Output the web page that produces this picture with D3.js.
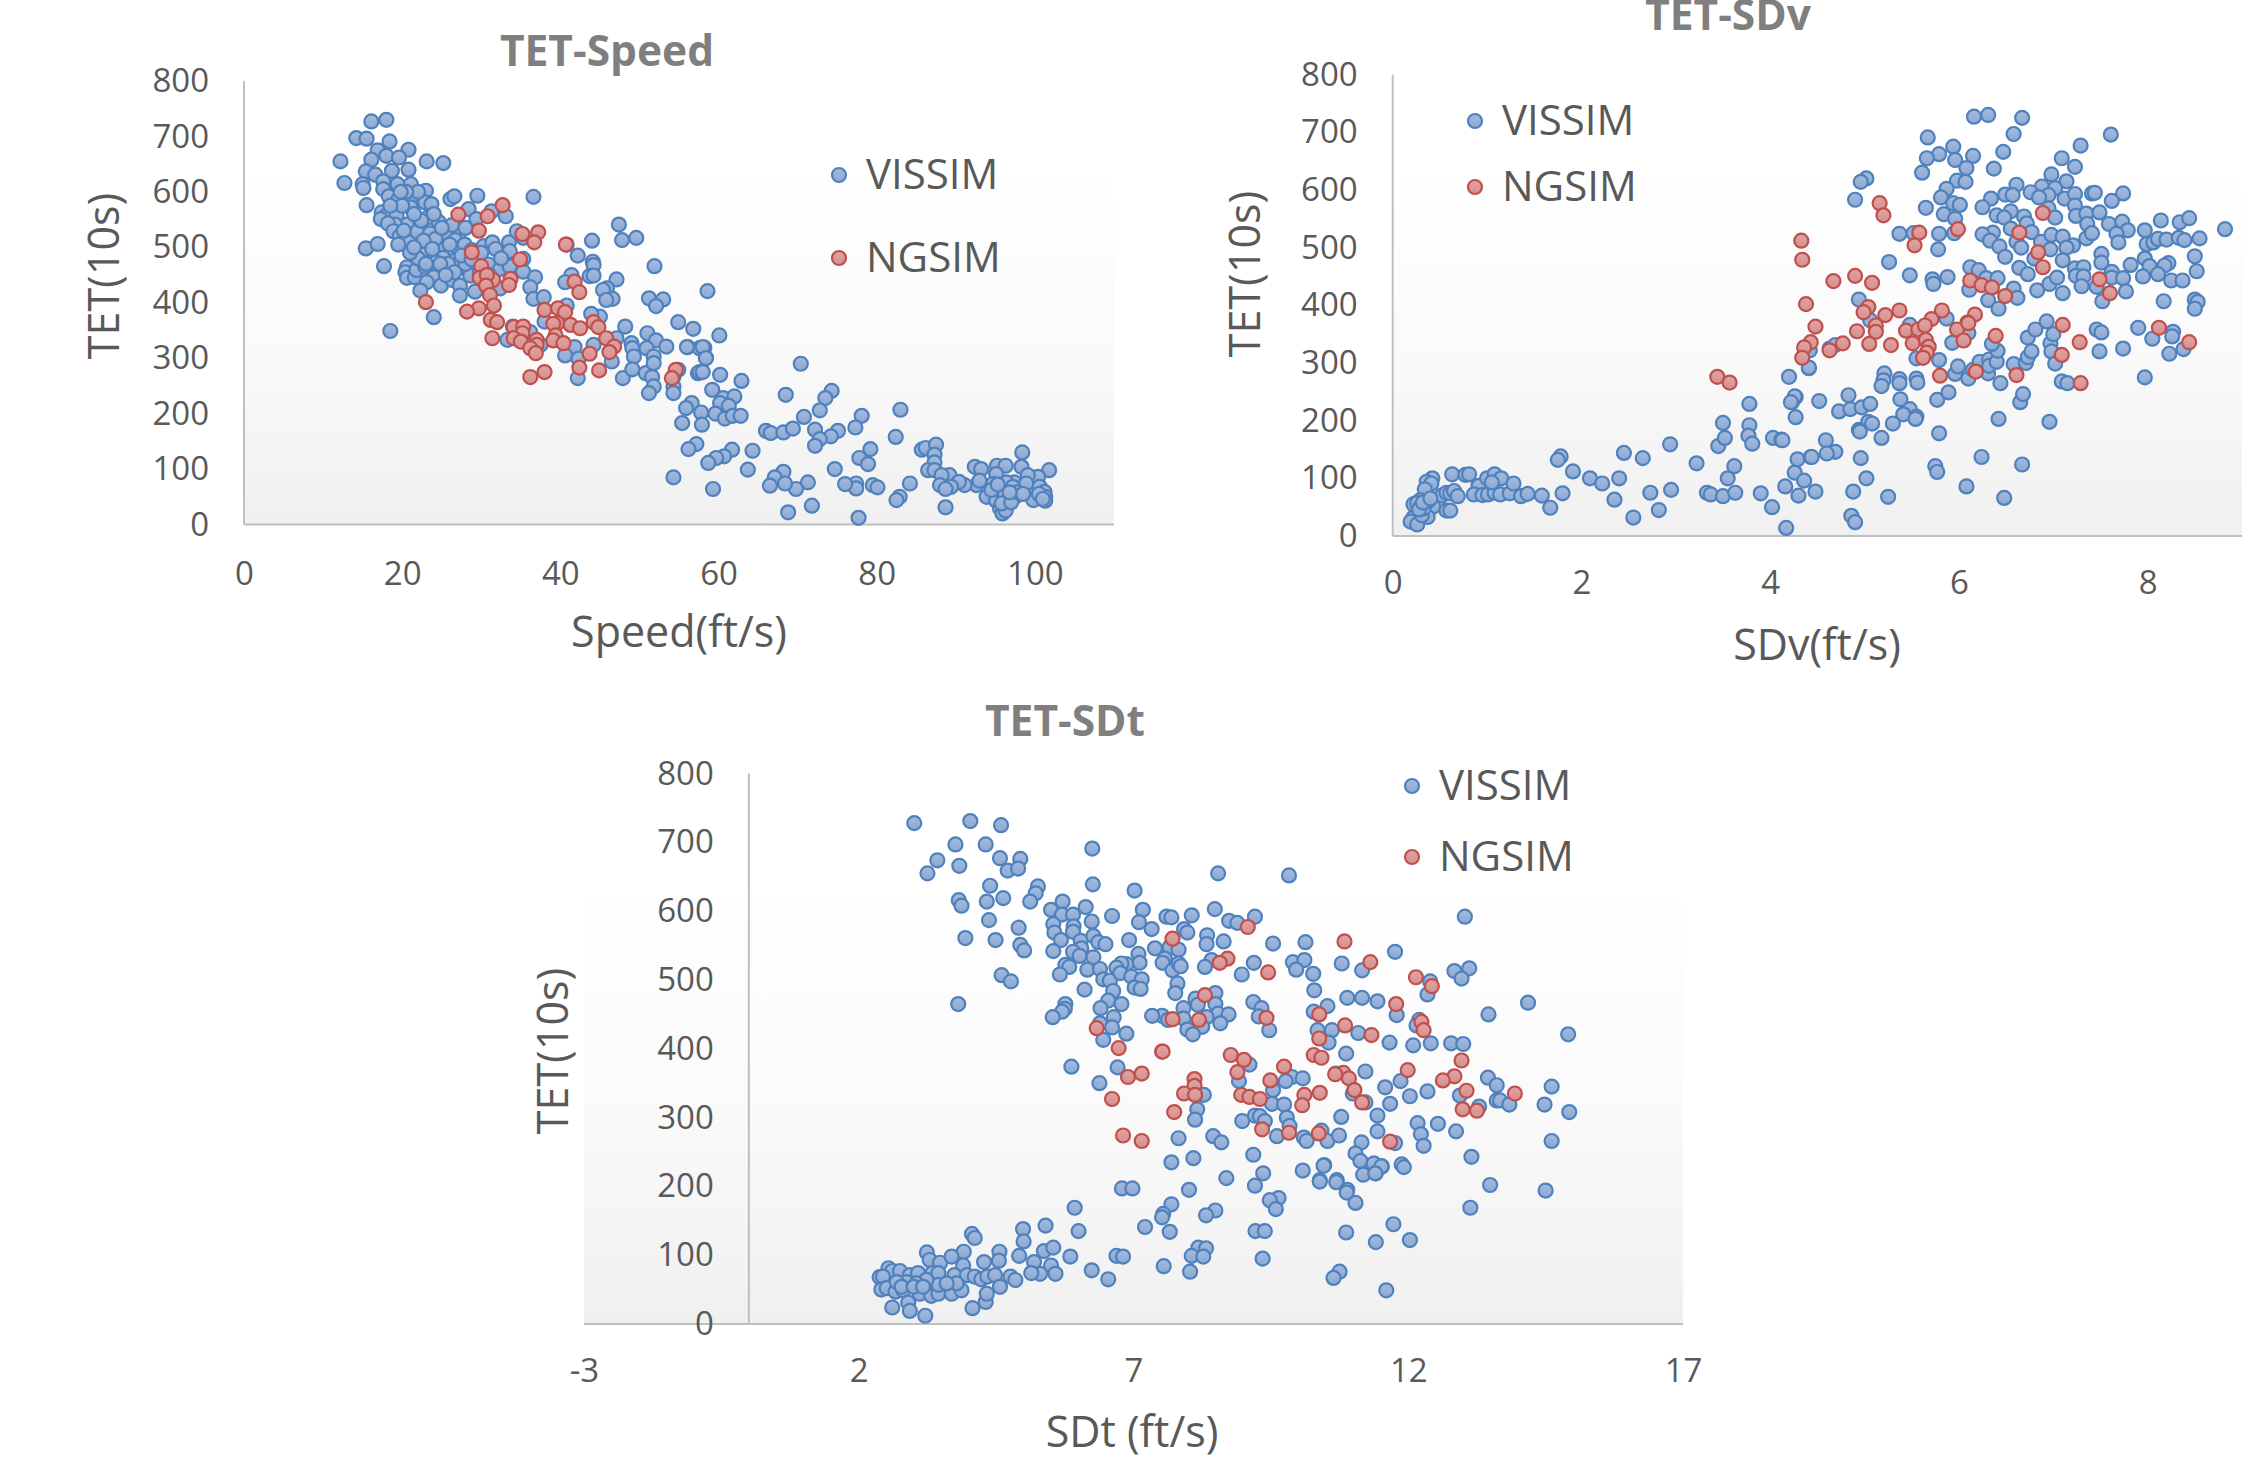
<!DOCTYPE html>
<html lang="en">

<head>
  <title>TET scatter plots</title>
  <meta charset="UTF-8">

  <script src="https://d3js.org/d3.v7.min.js"></script>

  <style>
    body {
      margin: 0;
      background-color: white;
      font-family: "Open Sans", sans-serif;
    }

    .tick text {
      font-family: "Open Sans", sans-serif;
      font-size: 33px;
      fill: #595959;
    }

    .chartTitle {
      font-size: 42.5px;
      font-weight: bold;
      fill: #7f7f7f;
      text-anchor: middle;
    }

    .axisLabel {
      font-size: 43px;
      fill: #595959;
      text-anchor: middle;
    }

    .legendLabel {
      font-size: 42px;
      fill: #595959;
    }
  </style>
</head>

<body>
  <svg id="plot" width="2260" height="1459"></svg>

  <script>
    const speedVissim = [[16.1,727],[18,730],[14.2,697],[15.5,696],[18.4,691],[16.9,675],[20.8,676],[23.1,655],[25.2,652],[12.2,655],[16.1,658],[18,665],[19.6,662],[15.4,637],[16.6,631],[18.7,638],[20.8,640],[12.7,616],[15,614],[15.1,607],[17.6,619],[19.4,614],[21.1,614],[17.6,605],[23,602],[18.3,592],[19.5,586],[21.2,592],[22.9,581],[23.7,578],[15.5,576],[21.1,572],[19.4,568],[17.4,563],[18,557],[17.3,551],[19.3,556],[23.3,554],[26.1,587],[26.6,592],[29.5,593],[28.4,569],[31.3,565],[33.1,556],[29.4,551],[36.6,591],[24.6,546],[20.6,541],[22.3,535],[19.1,541],[18.2,543],[18.9,529],[19.7,520],[20.9,509],[25,524],[27.1,520],[25.6,524],[23,505],[24.4,506],[26.3,540],[28,535],[25.2,502],[26.7,513],[15.4,498],[16.9,506],[30.3,502],[31.4,509],[31.8,497],[33.5,509],[33.6,493],[34.5,529],[35.3,517],[22.9,488],[24,483],[25.2,481],[26.9,479],[27.1,498],[24.3,473],[17.7,466],[20.6,464],[20.4,455],[20.6,445],[21.6,446],[21.8,459],[22.9,465],[24,446],[23.1,437],[22.3,422],[24.9,431],[26.3,441],[27.3,431],[27.3,413],[28.4,459],[28.6,449],[29.2,420],[30.9,469],[32.4,461],[33.6,465],[35.3,456],[35.3,479],[36.8,446],[36.2,428],[36.6,407],[37.9,410],[32.4,426],[24,374],[18.5,349],[41.4,450],[40.6,437],[42.2,485],[40.8,505],[44,512],[47.4,541],[47.8,513],[49.6,517],[44.1,474],[44.2,468],[43.7,448],[44.2,449],[47.1,442],[45.9,426],[45.4,423],[46.6,407],[45.8,405],[51.9,466],[51.2,408],[53,406],[52.1,394],[40.8,395],[38,366],[48.2,357],[54.9,365],[56.8,353],[34,357],[45,375],[43.9,380],[33.3,333],[36.2,347],[37.5,324],[41.8,320],[44.2,324],[40.6,305],[42.3,299],[47.1,336],[46.5,294],[42.2,264],[47.9,264],[49,327],[49.1,318],[49.3,303],[49.1,280],[51,345],[52.1,332],[50.9,318],[51.8,303],[53.4,321],[50.8,273],[51.8,291],[51.6,266],[51.8,249],[51.2,237],[54.3,249],[54.3,237],[54.3,267],[56.1,320],[57.6,318],[57.4,273],[54.9,279],[58.6,421],[60.1,341],[58.2,319],[58.4,301],[54.3,85],[56,320],[58,320],[58.4,300],[70.4,290],[57.6,275],[58,275],[60.2,270],[62.9,259],[59.2,243],[68.5,234],[74.3,241],[73.5,228],[60.6,228],[62,231],[60.2,219],[61.3,214],[56.6,219],[55.9,210],[57.8,202],[72.8,206],[59.6,200],[78.1,196],[70.8,194],[60.8,191],[61.8,196],[62.8,196],[55.4,183],[57.9,180],[77.3,175],[83,207],[66,169],[66.6,165],[68.2,166],[69.4,173],[72.2,171],[75.1,169],[74.2,159],[72.8,154],[72.2,142],[82.4,158],[57.2,145],[56.2,136],[61.7,135],[60.7,123],[59.7,120],[58.7,111],[64.3,133],[63.7,99],[79.2,136],[77.8,120],[78.9,109],[74.7,100],[85.7,135],[86.2,138],[87.5,144],[87.3,126],[87.3,112],[86.5,98],[87.3,98],[92.4,104],[93.2,100],[89.2,89],[88.2,89],[98.4,130],[95.2,106],[96.3,106],[98.3,104],[95.1,91],[101.8,98],[100.4,86],[99.1,89],[97.4,76],[96.4,76],[94.7,73],[92.6,71],[91.1,71],[90.4,77],[93,79],[88.6,67],[88,71],[89.4,68],[88.7,64],[84.2,74],[79.5,71],[80.1,67],[77.4,74],[77.4,65],[76,73],[71.3,76],[69.8,64],[68.2,95],[67.1,85],[68.4,74],[66.5,70],[59.3,64],[82.9,50],[82.5,44],[88.7,31],[71.8,34],[68.8,22],[77.7,12],[93.9,50],[95.1,43],[95.6,29],[95.9,20],[96.6,44],[97.5,50],[98.1,62],[99.3,62],[99.8,44],[100.6,68],[101.2,59],[101.3,50],[101.3,43],[97.2,68],[95.5,62],[96.2,53],[98.9,74],[94.5,62],[21.9,528],[23.5,525],[24.2,515],[22.7,512],[23.8,497],[26,505],[27.9,505],[28.8,495],[22,480],[23,470],[25.8,470],[26.6,455],[28,470],[29.5,478],[21,490],[21.5,500],[19.5,505],[20.2,530],[22.4,548],[24,560],[25,535],[21.5,560],[20,575],[22,600],[20.5,600],[18.5,575],[19.8,600],[24.8,470],[25.5,450],[27.5,485],[28.8,478],[30,490],[32.5,480],[31,450],[29.8,455],[96,35],[96.3,25],[95.8,38],[97,40],[97.8,58],[98.5,55],[100.5,55],[101,46],[96.8,58],[95.3,72]];

    const speedNgsim = [[27.1,559],[30.8,556],[32.7,576],[29.7,530],[35.2,524],[37.2,527],[36.7,509],[40.7,505],[28.8,491],[34.9,478],[30,466],[29.8,445],[31.5,441],[30.7,450],[33.7,443],[33.5,432],[30.6,431],[31.1,414],[23,401],[41.8,438],[42.4,419],[31.6,395],[29.7,390],[28.2,384],[38,387],[39.7,390],[40.6,383],[31.2,369],[32,365],[39.6,363],[39.1,362],[41.3,360],[42.5,354],[44.2,365],[44.8,356],[34.1,356],[35.3,357],[35.2,345],[34.1,336],[35,330],[37,333],[37,324],[36.2,318],[36.9,309],[31.4,336],[39.4,341],[39.1,332],[40.4,327],[45.8,336],[46.8,321],[46.2,311],[43.7,308],[42.4,283],[44.9,278],[38,275],[36.2,266],[54.6,279],[54.1,264]];

    const sdvVissim = [[0.42,100],[0.36,94],[0.41,91],[0.34,81],[0.24,56],[0.29,62],[0.34,54],[0.43,51],[0.22,32],[0.19,25],[0.26,20],[0.37,33],[0.31,36],[0.57,44],[0.61,44],[0.52,70],[0.57,75],[0.61,74],[0.65,78],[0.69,69],[0.63,107],[0.77,106],[0.81,107],[0.91,87],[0.86,72],[0.95,71],[1.01,72],[1.08,75],[1.14,72],[1.24,74],[1.36,69],[1.43,73],[1.58,70],[1.67,49],[1,100],[1.08,107],[1.15,100],[1.05,93],[1.28,91],[1.78,138],[1.75,132],[1.91,112],[1.8,74],[2.09,100],[2.22,91],[2.45,144],[2.65,135],[2.4,100],[2.94,159],[2.35,63],[2.73,75],[2.95,80],[2.82,45],[2.55,32],[3.22,126],[3.33,75],[3.37,72],[3.5,69],[3.63,75],[3.55,100],[3.62,121],[3.45,156],[3.52,170],[3.5,196],[3.78,229],[3.78,192],[3.77,174],[3.81,160],[4.03,170],[4.12,167],[3.9,74],[4.02,50],[4.17,14],[4.16,86],[4.26,110],[4.29,133],[4.43,137],[4.36,96],[4.3,70],[4.27,206],[4.23,232],[4.27,241],[4.2,276],[4.41,291],[4.48,77],[0.22,55],[0.26,57],[0.3,52],[0.33,48],[0.37,60],[0.28,46],[0.32,58],[0.4,65],[6.16,727],[6.31,730],[6.67,725],[6.58,697],[7.61,696],[7.29,677],[5.67,691],[5.94,675],[5.79,662],[5.66,655],[5.96,652],[6.15,659],[6.47,666],[6.08,638],[6.37,637],[7.09,655],[7.23,640],[5.61,630],[5.02,620],[4.96,614],[6.98,627],[7.14,615],[5.98,616],[6.07,614],[5.87,602],[6.61,609],[6.88,606],[7.02,603],[6.76,596],[6.49,592],[6.57,591],[6.95,591],[6.85,587],[4.9,583],[5.81,587],[6.34,585],[7.12,585],[7.23,593],[7.23,573],[7.41,594],[7.44,595],[7.74,594],[7.62,581],[5.65,569],[5.94,577],[6.01,574],[6.25,570],[6.55,563],[5.84,558],[6.4,556],[6.48,552],[6.69,554],[6.95,568],[7.02,552],[7.24,555],[7.35,559],[7.49,561],[7.36,541],[7.59,541],[7.73,545],[8.14,547],[8.34,544],[8.44,551],[8.82,532],[7.97,530],[7.79,530],[7.67,524],[7.69,509],[7.99,506],[8.06,509],[8.11,515],[8.2,514],[8.33,517],[8.39,513],[8.55,516],[5.96,550],[5.95,525],[5.79,524],[5.52,525],[5.37,524],[5.78,497],[6.55,533],[6.72,542],[6.77,527],[6.36,526],[6.25,523],[6.33,512],[6.61,510],[6.43,502],[6.66,500],[6.87,510],[6.98,522],[7.1,519],[7.35,516],[7.41,525],[7.21,504],[7.14,500],[6.97,497],[6.49,484],[6.8,481],[7.1,478],[7.51,489],[7.51,474],[7.97,481],[8.02,468],[8.22,473],[8.18,469],[8.5,485],[8.52,459],[5.26,475],[5.48,452],[6.12,466],[6.21,461],[6.64,465],[6.73,454],[7.23,464],[7.32,466],[7.24,451],[7.32,450],[7.62,458],[7.62,448],[7.74,447],[7.82,470],[7.95,450],[8.11,454],[8.25,443],[8.37,443],[5.72,445],[5.73,437],[5.88,449],[6.29,447],[6.41,447],[6.11,427],[6.31,409],[6.42,394],[6.58,429],[6.62,413],[6.83,426],[6.96,437],[7.04,448],[7.1,421],[7.3,433],[7.46,432],[7.52,407],[7.77,424],[8.17,407],[8.5,410],[8.53,406],[8.5,394],[4.94,410],[5.06,374],[5.87,377],[5.48,366],[4.42,322],[4.63,325],[4.69,331],[4.41,292],[4.26,242],[4.22,232],[4.52,234],[4.83,244],[4.73,216],[4.85,220],[4.97,223],[5.06,229],[5.21,282],[5.2,270],[5.18,260],[5.37,272],[5.37,265],[5.55,273],[5.56,266],[5.38,237],[5.48,220],[5.55,207],[5.41,211],[5.54,203],[5.3,195],[5.04,198],[5.08,195],[4.94,184],[4.95,181],[5.18,170],[4.13,166],[4.59,166],[4.69,146],[4.6,143],[4.44,137],[4.96,135],[5.02,100],[4.88,77],[5.25,68],[4.86,35],[4.9,24],[5.79,178],[5.75,121],[5.77,111],[6.24,137],[6.08,86],[6.67,124],[6.48,66],[6.42,203],[6.96,198],[6.65,232],[6.68,246],[5.77,236],[5.89,249],[5.55,308],[5.79,305],[5.96,281],[5.99,294],[6.1,273],[6.15,288],[6.22,302],[6.32,306],[6.31,282],[6.32,295],[6.4,302],[6.44,265],[6.58,298],[6.71,300],[6.73,310],[6.77,320],[6.73,344],[6.81,358],[6.93,372],[6.97,334],[7,350],[6.98,320],[7.02,299],[7.09,268],[7.15,265],[6.41,321],[6.35,333],[5.93,335],[6.1,352],[7.46,358],[7.51,353],[7.49,320],[7.74,325],[7.9,361],[8.05,342],[8.27,354],[8.26,346],[8.38,324],[8.23,316],[7.97,275]];

    const sdvNgsim = [[3.44,276],[3.57,266],[5.16,577],[5.2,556],[6.89,560],[5.99,532],[5.58,526],[5.53,504],[6.64,526],[6.84,492],[6.89,466],[4.33,512],[4.34,479],[4.67,442],[4.9,451],[5.08,439],[6.12,443],[6.24,435],[6.35,431],[6.49,416],[7.49,445],[7.6,421],[4.38,402],[5.04,397],[4.99,388],[5.22,383],[5.37,391],[5.82,391],[6.17,384],[6.09,370],[5.71,376],[4.48,363],[4.92,355],[5.12,365],[5.12,354],[5.44,356],[5.05,333],[5.28,331],[4.77,334],[4.63,322],[4.43,336],[4.36,327],[4.34,309],[5.51,334],[5.57,358],[5.64,365],[5.65,340],[5.68,328],[5.66,318],[5.62,309],[5.98,358],[6.1,369],[6.05,339],[5.8,278],[6.18,285],[6.61,279],[6.39,347],[7.1,366],[7.28,336],[7.09,314],[7.29,265],[8.12,361],[8.44,336]];

    const sdtVissim = [[3.01,728],[4.03,731],[4.59,725],[3.76,697],[4.31,697],[3.43,674],[3.83,666],[3.25,655],[4.57,677],[4.94,676],[4.71,659],[4.9,662],[6.25,691],[8.54,655],[9.83,652],[6.26,639],[7.02,630],[5.26,636],[5.22,626],[4.39,637],[3.82,616],[3.87,608],[4.33,614],[4.63,619],[5.12,614],[5.71,614],[5.5,602],[5.7,595],[5.9,595],[6.13,606],[7.17,602],[6.24,585],[6.61,593],[7.1,584],[4.37,587],[4.91,576],[5.54,581],[5.56,569],[5.91,578],[5.9,570],[5.68,558],[3.94,561],[4.49,558],[4.94,551],[5.01,543],[5.54,542],[6.04,557],[6.27,564],[6.36,555],[6.49,552],[6.92,558],[6.05,546],[5.9,541],[6.02,535],[6.27,533],[7.09,538],[7.11,525],[6.87,523],[6.78,524],[6.69,518],[5.76,522],[5.83,519],[5.66,508],[6.16,515],[6.39,516],[6.45,501],[6.57,499],[6.76,510],[6.96,505],[7.15,501],[7.02,489],[7.13,487],[6.63,484],[6.11,486],[4.6,507],[4.77,498],[6.54,470],[6.78,465],[6.4,459],[6.64,446],[3.81,465],[5.76,465],[5.75,458],[5.7,454],[5.53,446],[6.39,437],[6.61,431],[6.87,422],[6.45,413],[5.87,374],[6.71,373],[6.38,350],[8.48,603],[8.06,594],[7.6,592],[7.69,591],[8.74,586],[8.89,583],[9.21,592],[13.03,592],[7.33,574],[7.92,574],[7.98,569],[8.34,565],[8.33,552],[8.64,556],[9.54,553],[10.13,555],[11.76,541],[7.39,546],[7.66,548],[7.82,544],[7.57,531],[7.53,525],[7.71,514],[7.82,524],[7.86,520],[8.42,529],[8.3,519],[9.19,525],[8.97,508],[9.9,526],[10.11,529],[9.96,515],[10.27,509],[10.29,485],[10.79,524],[11.16,514],[12.84,513],[13.11,517],[12.97,502],[12.4,498],[12.35,479],[7.8,495],[7.76,481],[8.49,481],[8.49,465],[8.54,451],[8.73,450],[8.58,437],[8.13,473],[8.17,464],[7.91,459],[7.91,444],[8.33,446],[8.25,432],[7.98,428],[8.08,421],[7.52,448],[7.34,448],[7.63,442],[9.18,468],[9.33,459],[9.28,447],[9.47,427],[10.53,462],[10.28,454],[10.89,474],[11.16,474],[11.44,469],[11.79,449],[12.2,442],[12.15,434],[13.46,450],[14.18,467],[10.35,427],[10.61,427],[11.09,423],[10.55,409],[10.87,393],[11.66,409],[12.09,405],[12.41,408],[12.78,408],[13,407],[9.11,377],[8.92,353],[11.22,367],[10.68,364],[9.88,359],[10.08,357],[9.77,353],[9.54,340],[11.86,353],[11.58,344],[10.99,335],[11.22,322],[11.67,320],[12.03,331],[12.35,338],[12.94,332],[13.29,316],[13.45,358],[13.61,347],[13.61,325],[13.67,325],[13.84,319],[14.48,319],[14.61,345],[8.28,333],[8.12,333],[8.16,312],[8.12,297],[9.52,320],[9.74,319],[8.98,295],[9.21,303],[9.3,302],[9.39,295],[9.79,300],[9.84,288],[10.78,301],[11.44,303],[11.44,280],[12.17,292],[12.23,276],[12.28,259],[12.54,291],[12.87,280],[13.15,243],[14.61,266],[9.61,273],[10.1,271],[10.15,266],[10.42,281],[10.53,266],[10.74,274],[11.15,264],[11.76,263],[7.82,270],[8.45,273],[8.6,264],[7.69,235],[8.09,241],[9.18,246],[11.04,248],[11.13,237],[11.52,229],[11.38,233],[11.41,219],[11.18,217],[11.88,232],[11.92,228],[10.47,231],[10.08,223],[9.36,219],[8.69,212],[10.39,209],[10.7,209],[14.91,421],[14.93,308],[14.5,194],[6.79,197],[6.98,197],[8.01,195],[5.93,169],[7.69,174],[7.54,160],[7.52,155],[8.49,165],[8.32,158],[9.21,201],[7.21,141],[7.66,134],[5.4,143],[6,135],[4.99,138],[5,120],[4.06,131],[4.11,125],[3.24,104],[3.91,105],[4.56,105],[4.92,99],[5.37,106],[5.54,111],[5.85,98],[6.69,99],[6.81,98],[8.18,111],[8.32,110],[8.06,99],[8.27,98],[7.55,84],[8.03,76],[3.29,93],[3.48,89],[3.69,98],[4.55,92],[4.28,90],[3.9,85],[5.19,90],[5.5,85],[5.58,73],[5.3,73],[5.14,74],[6.24,78],[6.54,65],[2.54,81],[2.61,77],[2.38,68],[2.44,69],[2.75,77],[2.93,71],[3.08,74],[3.34,74],[3.45,74],[3.74,71],[3.97,71],[4.11,69],[4.23,65],[4.34,69],[4.48,71],[4.76,69],[4.85,64],[2.41,50],[2.51,52],[2.67,47],[2.81,49],[3.11,44],[3.32,41],[3.45,44],[3.45,57],[3.69,44],[3.87,49],[3.78,59],[4.57,54],[2.9,31],[2.93,19],[2.61,24],[3.21,12],[4.07,23],[4.31,32],[4.33,44],[3.23,64],[2.87,61],[3.05,59],[2.69,61],[2.78,54],[3,54],[3.17,54],[3.6,59],[10.46,230],[10.39,207],[10.69,206],[10.89,195],[10.88,191],[11.04,176],[11.37,233],[11.51,229],[11.4,219],[13.49,202],[13.13,169],[9.64,183],[9.48,180],[9.59,167],[9.22,135],[9.39,135],[10.87,133],[11.73,145],[11.41,119],[12.03,122],[9.35,95],[10.75,76],[10.64,67],[11.6,49]];

    const sdtNgsim = [[7.71,560],[9.08,577],[8.71,531],[8.57,525],[9.45,511],[10.84,556],[11.31,526],[12.14,504],[12.43,491],[8.3,478],[11.78,465],[10.38,450],[9.42,445],[7.71,443],[8.19,442],[12.24,439],[12.28,427],[10.85,434],[11.33,420],[10.38,415],[7.52,396],[8.77,391],[9.01,384],[8.89,366],[9.74,374],[10.28,391],[10.42,387],[12.97,383],[11.99,369],[12.84,360],[12.63,354],[8.11,356],[8.11,346],[7.92,335],[8.12,333],[9.49,354],[10.82,365],[10.67,363],[10.92,357],[11.02,340],[11.16,322],[8.96,333],[9.11,330],[9.3,327],[10.11,333],[10.39,336],[10.07,318],[13.06,339],[13.94,335],[12.99,312],[13.25,310],[7.74,308],[9.34,283],[9.83,278],[10.37,277],[11.67,265],[6.33,430],[6.73,401],[7.53,396],[6.9,359],[7.15,364],[6.61,327],[6.81,274],[7.15,266]];

    const tetTicks = [0, 100, 200, 300, 400, 500, 600, 700, 800];
    const speedTicks = [0, 20, 40, 60, 80, 100];
    const sdvTicks = [0, 2, 4, 6, 8];
    const sdtTicks = [-3, 2, 7, 12, 17];

    const blueMarker = "#4f81bd";
    const redMarker = "#c0504d";
    const markerRadius = 7;

    let svg = d3.select("#plot");

    // marker fills and plot background
    let defs = svg.append("defs");

    function addGradient(id, stops) {
      let grad = defs.append("linearGradient")
        .attr("id", id)
        .attr("x1", 0).attr("y1", 0)
        .attr("x2", 0).attr("y2", 1);
      stops.forEach(s => {
        grad.append("stop").attr("offset", s[0]).attr("stop-color", s[1]);
      });
    }

    addGradient("blueFill", [[0, "#a5bbdd"], [1, "#8ba8d4"]]);
    addGradient("redFill", [[0, "#e0a5a4"], [1, "#d58f8e"]]);
    addGradient("plotFill", [[0, "#ffffff"], [0.2, "#ffffff"], [0.6, "#fafafa"], [1, "#f0f0f0"]]);

    function drawChart(c) {
      const xScale = d3.scaleLinear().domain(c.xDomain).range([c.left, c.right]);
      const yScale = d3.scaleLinear().domain([0, 800]).range([c.bottom, c.top]);

      svg.append("rect")
        .attr("x", c.left)
        .attr("y", c.top)
        .attr("width", c.right - c.left)
        .attr("height", c.bottom - c.top)
        .attr("fill", "url(#plotFill)");

      // axis lines sit at x=0 and y=0
      svg.append("line")
        .attr("x1", xScale(0)).attr("x2", xScale(0))
        .attr("y1", c.top).attr("y2", c.bottom)
        .attr("stroke", "#bfbfbf").attr("stroke-width", 2);
      svg.append("line")
        .attr("x1", c.left).attr("x2", c.right)
        .attr("y1", c.bottom).attr("y2", c.bottom)
        .attr("stroke", "#bfbfbf").attr("stroke-width", 2);

      let xAxis = svg.append("g")
        .attr("transform", "translate(0," + c.bottom + ")")
        .call(d3.axisBottom(xScale).tickValues(c.xTicks).tickFormat(d => String(d)).tickSize(0).tickPadding(c.xPad));
      xAxis.select(".domain").remove();

      let yAxis = svg.append("g")
        .attr("transform", "translate(" + xScale(0) + ",0)")
        .call(d3.axisLeft(yScale).tickValues(tetTicks).tickSize(0).tickPadding(c.yPad));
      yAxis.select(".domain").remove();

      svg.append("text")
        .attr("class", "chartTitle")
        .attr("x", c.titleX)
        .attr("y", c.titleY)
        .text(c.title);

      svg.append("text")
        .attr("class", "axisLabel")
        .attr("x", c.xLabelX)
        .attr("y", c.xLabelY)
        .text(c.xLabel);

      svg.append("text")
        .attr("class", "axisLabel")
        .attr("transform", "translate(" + c.yLabelX + "," + c.yLabelY + ") rotate(-90)")
        .text("TET(10s)");

      c.vissim.forEach(d => {
        svg.append("circle")
          .attr("cx", xScale(d[0]))
          .attr("cy", yScale(d[1]))
          .attr("r", markerRadius)
          .attr("fill", "url(#blueFill)")
          .attr("stroke", blueMarker)
          .attr("stroke-width", 2.2);
      });
      c.ngsim.forEach(d => {
        svg.append("circle")
          .attr("cx", xScale(d[0]))
          .attr("cy", yScale(d[1]))
          .attr("r", markerRadius)
          .attr("fill", "url(#redFill)")
          .attr("stroke", redMarker)
          .attr("stroke-width", 2.2);
      });

      // legend
      svg.append("circle").attr("cx", c.legendX).attr("cy", c.legendY[0]).attr("r", markerRadius)
        .attr("fill", "url(#blueFill)").attr("stroke", blueMarker).attr("stroke-width", 2.2);
      svg.append("circle").attr("cx", c.legendX).attr("cy", c.legendY[1]).attr("r", markerRadius)
        .attr("fill", "url(#redFill)").attr("stroke", redMarker).attr("stroke-width", 2.2);
      svg.append("text").attr("class", "legendLabel")
        .attr("x", c.legendX + 27).attr("y", c.legendY[0] + 14).text("VISSIM");
      svg.append("text").attr("class", "legendLabel")
        .attr("x", c.legendX + 27).attr("y", c.legendY[1] + 14).text("NGSIM");
    }

    drawChart({
      title: "TET-Speed", xLabel: "Speed(ft/s)",
      vissim: speedVissim, ngsim: speedNgsim,
      xDomain: [0, 110], xTicks: speedTicks,
      left: 244, right: 1114, top: 81, bottom: 524.5,
      xPad: 37, yPad: 35,
      titleX: 607, titleY: 66, xLabelX: 679, xLabelY: 647, yLabelX: 119, yLabelY: 276,
      legendX: 839, legendY: [175, 258]
    });

    drawChart({
      title: "TET-SDv", xLabel: "SDv(ft/s)",
      vissim: sdvVissim, ngsim: sdvNgsim,
      xDomain: [0, 9], xTicks: sdvTicks,
      left: 1392.7, right: 2242, top: 74.6, bottom: 536,
      xPad: 35, yPad: 35,
      titleX: 1728, titleY: 30, xLabelX: 1817, xLabelY: 660, yLabelX: 1260, yLabelY: 274,
      legendX: 1475, legendY: [121, 187]
    });

    drawChart({
      title: "TET-SDt", xLabel: "SDt (ft/s)",
      vissim: sdtVissim, ngsim: sdtNgsim,
      xDomain: [-3, 17], xTicks: sdtTicks,
      left: 584, right: 1683, top: 773.6, bottom: 1324,
      xPad: 35, yPad: 35,
      titleX: 1065, titleY: 736, xLabelX: 1132, xLabelY: 1447, yLabelX: 568, yLabelY: 1051,
      legendX: 1412, legendY: [786, 857]
    });

  </script>
</body>

</html>
